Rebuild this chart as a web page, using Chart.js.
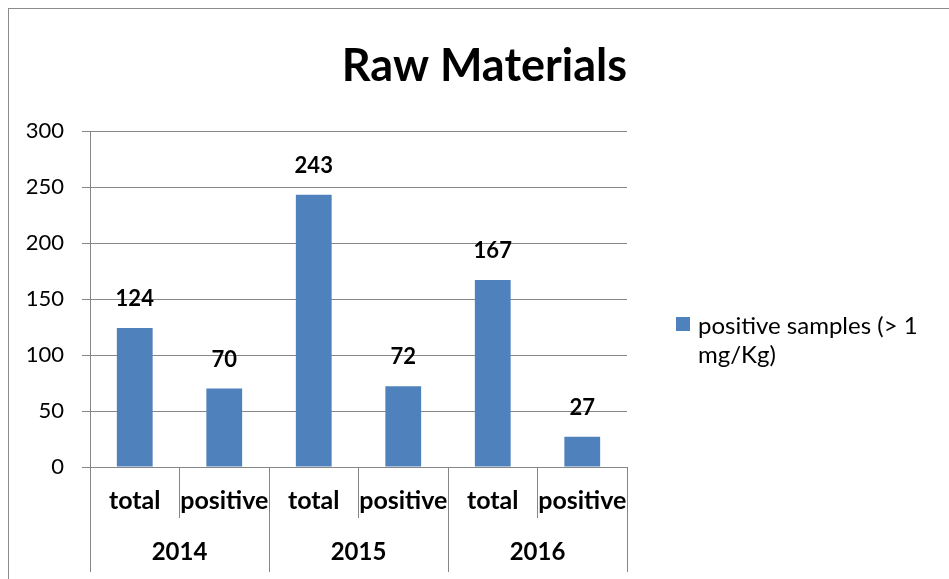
<!DOCTYPE html>
<html>
<head>
<meta charset="utf-8">
<script src="https://cdn.jsdelivr.net/npm/chart.js@4.4.1/dist/chart.umd.min.js"></script>
<style>
  html, body { margin: 0; padding: 0; background: #fff; overflow: hidden; }
  #frame { position: absolute; left: 8px; top: 8px; width: 1100px; height: 700px; border: 1px solid #8c8c8c; }
  #chart { position: absolute; left: 0; top: 0; }
</style>
</head>
<body>
<div id="frame"></div>
<canvas id="chart" width="949" height="579"></canvas>
<script>
// chart data
const subLabels = ['total', 'positive', 'total', 'positive', 'total', 'positive'];
const years = ['2014', '2015', '2016'];
const sampleCounts = [124, 70, 243, 72, 167, 27];
const seriesName = ['positive samples (> 1', 'mg/Kg)'];
const yMin = 0, yMax = 300, yStep = 50;

const FONT = 'Lato';
const BAR = '#4f81bd';
const GRID = '#868686';

// numbers above the bars
const valueLabels = {
    id: 'valueLabels',
    afterDatasetsDraw(chart) {
        const ctx = chart.ctx;
        const meta = chart.getDatasetMeta(0);
        ctx.save();
        ctx.font = 'bold 22px ' + FONT;
        ctx.fillStyle = '#000';
        ctx.textAlign = 'center';
        ctx.textBaseline = 'middle';
        meta.data.forEach((bar, i) => {
            ctx.fillText(chart.data.datasets[0].data[i], bar.x, bar.y - 29);
        });
        ctx.restore();
    }
};

// legend with the wrapped series name
const sideLegend = {
    id: 'sideLegend',
    afterDraw(chart) {
        const ctx = chart.ctx;
        const ds = chart.data.datasets[0];
        ctx.save();
        ctx.fillStyle = ds.backgroundColor;
        ctx.fillRect(676, 317, 14, 14);
        ctx.font = '24px ' + FONT;
        ctx.fillStyle = '#000';
        ctx.textAlign = 'left';
        ctx.textBaseline = 'middle';
        seriesName.forEach((line, i) => ctx.fillText(line, 698, 326 + i * 29));
        ctx.restore();
    }
};

const chart = new Chart(document.getElementById('chart'), {
    type: 'bar',
    data: {
        labels: subLabels,
        datasets: [{
            label: seriesName.join(' '),
            data: sampleCounts,
            backgroundColor: BAR,
            barPercentage: 0.4,
            categoryPercentage: 1.0,
        }],
    },
    options: {
        responsive: false,
        animation: false,
        layout: { padding: { left: 0, right: 322, top: 0, bottom: 7 } },
        plugins: {
            legend: { display: false },
            tooltip: { enabled: false },
            title: {
                display: true,
                text: 'Raw Materials',
                align: 'end',
                color: '#000',
                font: { family: FONT, size: 45, weight: 'bold', lineHeight: 1.2 },
                padding: { top: 39, bottom: 38 },
            },
        },
        scales: {
            x: {
                offset: true,
                grid: { drawOnChartArea: false, offset: true, tickLength: 51, color: GRID },
                border: { display: false },
                ticks: { color: '#000', font: { family: FONT, size: 25, weight: 'bold' }, padding: -32, maxRotation: 0, autoSkip: false },
                afterFit: (s) => { s.height = 51; },
            },
            year: {
                type: 'category',
                position: 'bottom',
                labels: years,
                offset: true,
                grid: { drawOnChartArea: false, offset: true, tickLength: 54, color: GRID },
                border: { display: false },
                ticks: { color: '#000', font: { family: FONT, size: 24, weight: 'bold' }, padding: -34, maxRotation: 0 },
                afterFit: (s) => { s.height = 54; },
            },
            y: {
                min: yMin,
                max: yMax,
                ticks: { stepSize: yStep, color: '#000', font: { family: FONT, size: 22 }, padding: 18 },
                grid: { color: GRID, tickLength: 8 },
                border: { display: true, color: GRID },
                afterFit: (s) => { s.width = 90; },
            },
        },
    },
    plugins: [valueLabels, sideLegend],
});
</script>
</body>
</html>
